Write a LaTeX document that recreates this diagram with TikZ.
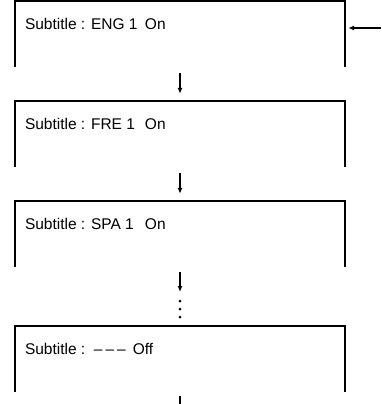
\documentclass[tikz,border=0pt]{standalone}
\usepackage{fontspec}
\setmainfont{Liberation Sans}
\usepackage{tikz}
\usetikzlibrary{arrows.meta, positioning, calc}
\definecolor{mydark}{RGB}{0,0,0}
\tikzset{
  screen/.style={rectangle, minimum width=330pt, minimum height=66pt,
    inner sep=0pt},
  screenframe/.style={line width=2pt, color=mydark},
  msgtext/.style={anchor=base west, inner sep=0pt,
    font=\fontsize{15.5}{18}\selectfont},
  arrow/.style={-{Latex[length=6pt, width=5pt]}, line width=1.5pt, color=mydark},
  line/.style={line width=1.5pt, color=mydark},
  ellipsisdot/.style={circle, fill=mydark, inner sep=0pt, minimum size=3pt}
}

\begin{document}
\begin{tikzpicture}[x=1pt, y=-1pt]
  \useasboundingbox (0,0) rectangle (381,404);

  % Screens (open at the bottom)
  \foreach \n/\y in {1/34, 2/134, 3/234, 4/359} {
    \node[screen] (scr\n) at (180,\y) {};
    \draw[screenframe] (scr\n.south west) -- (scr\n.north west)
      -- (scr\n.north east) -- (scr\n.south east);
  }

  % Messages
  \foreach \n/\lang in {1/ENG, 2/FRE, 3/SPA} {
    \node[msgtext] (txt\n) at ($(scr\n.north west)+(10,29)$)
      {\makebox[120pt][l]{Subtitle : \lang\ 1}On};
  }
  \node[msgtext] (txt4) at ($(scr4.north west)+(10,29)$)
    {\makebox[69pt][l]{Subtitle :}\textendash\hspace{3pt}\textendash
     \hspace{3pt}\textendash\hspace{7pt}Off};

  % Entry arrow
  \coordinate (entry) at (381,28);
  \draw[arrow, shorten >=3pt] (entry) -- (entry -| scr1.east);

  % Steps
  \draw[arrow, shorten <=6pt, shorten >=7pt] (scr1.south) -- (scr2.north);
  \draw[arrow, shorten <=6pt, shorten >=7pt] (scr2.south) -- (scr3.north);
  \coordinate (more) at (180,292);
  \draw[arrow, shorten <=5pt] (scr3.south) -- (more);
  \foreach \k/\y in {1/301, 2/309, 3/317}
    \node[ellipsisdot] (dot\k) at (180,\y) {};

  % Continues below
  \coordinate (exit) at (180,404);
  \draw[line, shorten <=4pt] (scr4.south) -- (exit);
\end{tikzpicture}
\end{document}
